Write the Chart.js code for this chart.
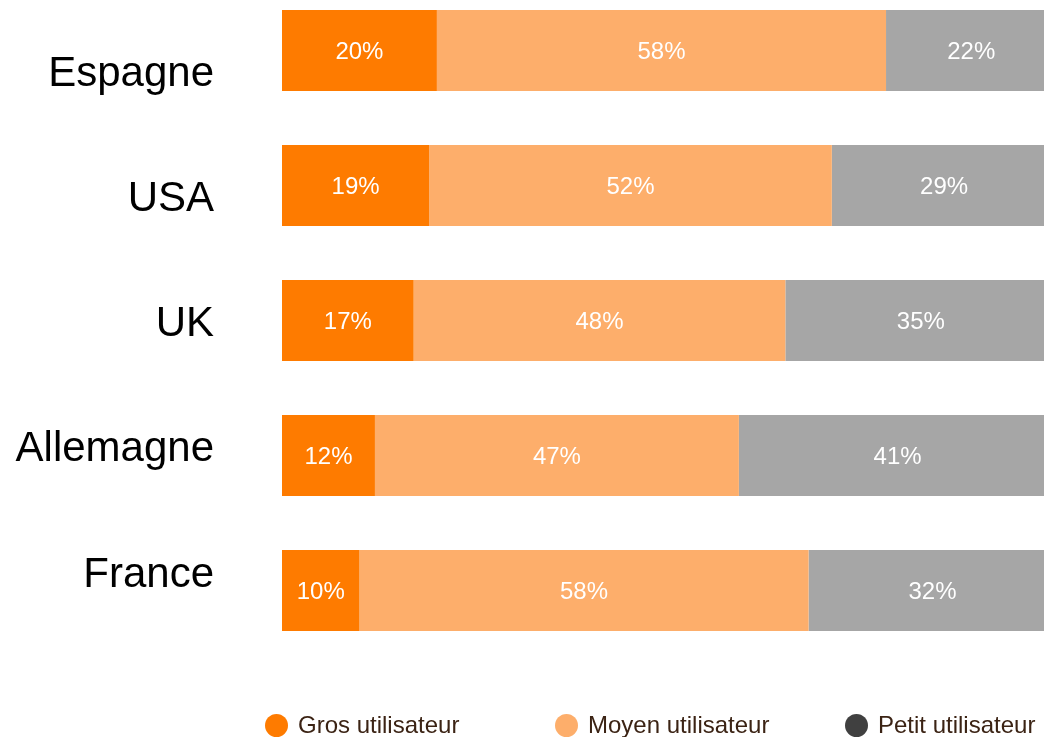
<!DOCTYPE html>
<html lang="fr">
<head>
<meta charset="utf-8">
<title>Utilisateurs par pays</title>
<script src="https://cdn.jsdelivr.net/npm/chart.js@4/dist/chart.umd.min.js"></script>
<style>
  html, body { margin: 0; padding: 0; background: #fff; overflow: hidden; }
  #wrap { position: relative; width: 1044px; height: 737px; }
  #legende {
    position: absolute; left: 265px; top: 712px;
    display: flex; margin: 0; padding: 0; list-style: none;
    font-family: "Liberation Sans", Arial, sans-serif; font-size: 24px; color: #3b2314;
  }
  #legende li { width: 290px; display: flex; align-items: center; height: 26px; white-space: nowrap; }
  #legende .pastille { width: 23px; height: 23px; border-radius: 50%; margin-right: 10px; flex: none; }
</style>
</head>
<body>
<div id="wrap">
  <canvas id="graphique" width="1044" height="737"></canvas>
  <ul id="legende"></ul>
</div>
<script>
const pays = ['Espagne', 'USA', 'UK', 'Allemagne', 'France'];
const gros = [20, 19, 17, 12, 10];
const moyen = [58, 52, 48, 47, 58];
const petit = [22, 29, 35, 41, 32];
const series = ['Gros utilisateur', 'Moyen utilisateur', 'Petit utilisateur'];

const couleursBarres = ['#fe7b00', '#fdae6b', '#a6a6a6'];
const couleursLegende = ['#fe7b00', '#fdae6b', '#404040'];
const police = '"Liberation Sans", Arial, sans-serif';

// pourcentages en blanc au milieu de chaque segment
const etiquettes = {
  id: 'etiquettes',
  afterDatasetsDraw(chart) {
    const ctx = chart.ctx;
    ctx.save();
    ctx.fillStyle = '#ffffff';
    ctx.font = '24px ' + police;
    ctx.textAlign = 'center';
    ctx.textBaseline = 'middle';
    chart.data.datasets.forEach((ds, i) => {
      chart.getDatasetMeta(i).data.forEach((bar, j) => {
        const p = bar.getProps(['x', 'y', 'base'], true);
        ctx.fillText(ds.data[j] + '%', (p.x + p.base) / 2, p.y + 2);
      });
    });
    ctx.restore();
  }
};

// legende en html, construite depuis les datasets
const legendeHtml = {
  id: 'legendeHtml',
  afterUpdate(chart) {
    const ul = document.getElementById('legende');
    ul.innerHTML = '';
    chart.data.datasets.forEach((ds, i) => {
      const li = document.createElement('li');
      const rond = document.createElement('span');
      rond.className = 'pastille';
      rond.style.background = couleursLegende[i];
      li.appendChild(rond);
      li.appendChild(document.createTextNode(ds.label));
      ul.appendChild(li);
    });
  }
};

const valeurs = [gros, moyen, petit];
const datasets = series.map((nom, i) => ({
  label: nom,
  data: valeurs[i],
  backgroundColor: couleursBarres[i],
  borderWidth: 0,
  clip: false,
  yAxisID: 'y'
}));

new Chart(document.getElementById('graphique'), {
  type: 'bar',
  data: { labels: pays, datasets: datasets },
  plugins: [etiquettes, legendeHtml],
  options: {
    indexAxis: 'y',
    responsive: false,
    animation: false,
    devicePixelRatio: 1,
    categoryPercentage: 1,
    barPercentage: 0.6,
    layout: { padding: { top: 50.5, left: 0, right: 0, bottom: 146.5 } },
    scales: {
      y: {
        type: 'category',
        stacked: true,
        offset: false,
        display: false
      },
      // axe des noms de pays, un peu plus serre que les barres
      yl: {
        type: 'linear',
        position: 'left',
        axis: 'y',
        reverse: true,
        offset: false,
        bounds: 'data',
        min: -0.1877,
        max: 4.1237,
        grid: { display: false, drawTicks: false, offset: false },
        border: { display: false },
        afterBuildTicks: (s) => {
          s.ticks = pays.map((p, i) => ({ value: i }));
        },
        ticks: {
          autoSkip: false,
          padding: 68,
          color: '#000000',
          font: { family: police, size: 42 },
          callback: (v) => pays[Math.round(v)]
        },
        afterFit: (s) => {
          s.width = 282;
          s.paddingTop = 0;
          s.paddingBottom = 0;
        }
      },
      x: {
        stacked: true,
        display: false,
        min: 0,
        max: 98.4
      }
    },
    plugins: {
      legend: { display: false },
      tooltip: { enabled: false }
    }
  }
});
</script>
</body>
</html>
